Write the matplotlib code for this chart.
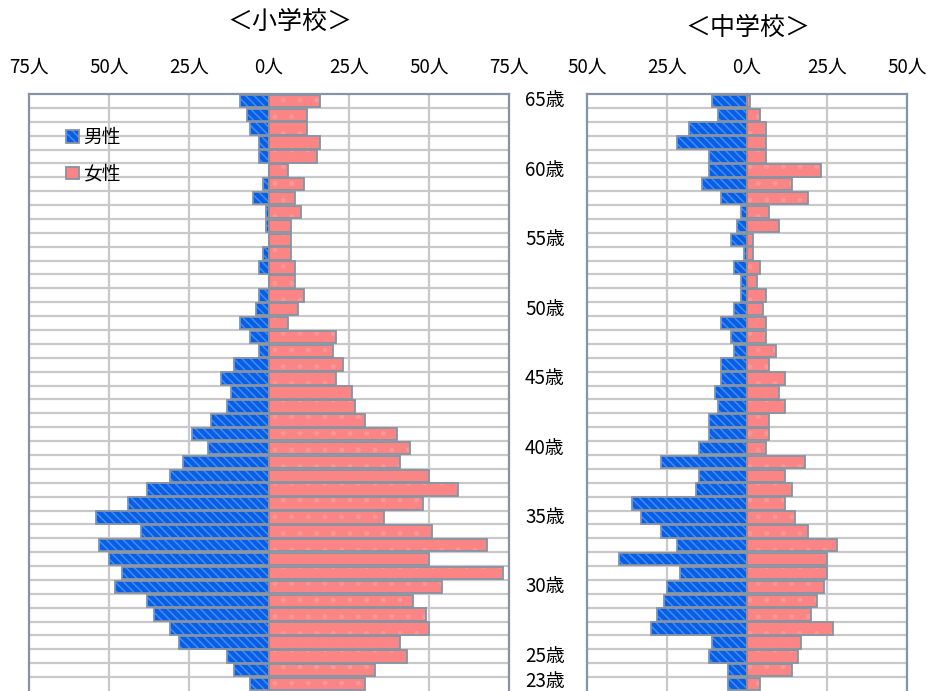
import numpy as np
import matplotlib
matplotlib.use("Agg")
import matplotlib.pyplot as plt
from matplotlib.patches import Patch

plt.rcParams['font.family'] = ['Noto Sans CJK JP', 'DejaVu Sans']
plt.rcParams['hatch.linewidth'] = 1.1

# ======================
# データ（65歳 → 23歳）
# ======================
ages = list(range(65, 22, -1))
age_labels = [65, 60, 55, 50, 45, 40, 35, 30, 25, 23]

# 小学校
elem_male = [9, 7, 6, 3, 3, 0, 2, 5, 1, 1,
             0, 2, 3, 0, 3, 4, 9, 6, 3, 11,
             15, 12, 13, 18, 24, 19, 27, 31, 38, 44,
             54, 40, 53, 50, 46, 48, 38, 36, 31, 28,
             13, 11, 6]
elem_female = [16, 12, 12, 16, 15, 6, 11, 8, 10, 7,
               7, 7, 8, 8, 11, 9, 6, 21, 20, 23,
               21, 26, 27, 30, 40, 44, 41, 50, 59, 48,
               36, 51, 68, 50, 73, 54, 45, 49, 50, 41,
               43, 33, 30]

# 中学校
jhs_male = [11, 9, 18, 22, 12, 12, 14, 8, 2, 3,
            5, 1, 4, 2, 2, 4, 8, 5, 4, 8,
            8, 10, 9, 12, 12, 15, 27, 15, 16, 36,
            33, 27, 22, 40, 21, 25, 26, 28, 30, 11,
            12, 6, 6]
jhs_female = [1, 4, 6, 6, 6, 23, 14, 19, 7, 10,
              2, 2, 4, 3, 6, 5, 6, 6, 9, 7,
              12, 10, 12, 7, 7, 6, 18, 12, 14, 12,
              15, 19, 28, 25, 25, 24, 22, 20, 27, 17,
              16, 14, 4]

elem_ticks = [-75, -50, -25, 0, 25, 50, 75]
jhs_ticks = [-50, -25, 0, 25, 50]

# 色
BLUE = '#0a5ee6'
BLUE_HATCH = '#3f8ef4'
PINK = '#fb8585'
PINK_HATCH = '#fd9797'
EDGE = '#8793a2'
GRID = '#c9c9c9'

fig = plt.figure(figsize=(9.31, 6.91), dpi=100)
ax1 = fig.add_axes([29 / 931, 0, 480 / 931, 597 / 691])
ax2 = fig.add_axes([587 / 931, 0, 320 / 931, 597 / 691])


def draw_pyramid(ax, male, female, ticks):
    y = np.array(ages)
    m = -np.array(male)
    f = np.array(female)
    # 塗り（斜線・ドット）
    ax.barh(y, m, height=0.9, color=BLUE, edgecolor=BLUE_HATCH,
            hatch='\\\\\\\\', linewidth=0, zorder=3)
    ax.barh(y, f, height=0.9, color=PINK, edgecolor=PINK_HATCH,
            hatch='.', linewidth=0, zorder=3)
    # 枠線
    ax.barh(y, m, height=0.9, fill=False, edgecolor=EDGE, linewidth=1.3, zorder=4)
    ax.barh(y, f, height=0.9, fill=False, edgecolor=EDGE, linewidth=1.3, zorder=4)

    ax.set_xlim(ticks[0], ticks[-1])
    ax.set_ylim(ages[-1] - 0.5, ages[0] + 0.5)
    ax.set_xticks(ticks)
    ax.set_xticklabels([f"{abs(t)}人" for t in ticks], fontsize=13.5)
    ax.xaxis.tick_top()
    ax.tick_params(axis='x', length=0, pad=12)
    ax.set_yticks([])
    for t in ticks[1:-1]:
        ax.axvline(t, color=GRID, lw=1.6, zorder=1)
    for a in ages[:-1]:
        ax.axhline(a - 0.5, color=GRID, lw=1.6, zorder=1)
    for s in ax.spines.values():
        s.set_color(EDGE)
        s.set_linewidth(1.6)
    ax.spines['bottom'].set_visible(False)


draw_pyramid(ax1, elem_male, elem_female, elem_ticks)
draw_pyramid(ax2, jhs_male, jhs_female, jhs_ticks)

# 年齢ラベル（一番下だけ少し上げて切れないように）
for a in age_labels:
    ya = a + 0.2 if a == ages[-1] else a
    ax2.text(-62 / 320, ya, f"{a}歳", transform=ax2.get_yaxis_transform(),
             ha='left', va='center', fontsize=13.5)

# タイトル
fig.text(290 / 931, 1 - 22 / 691, "＜小学校＞", ha='center', va='center', fontsize=18)
fig.text(748 / 931, 1 - 28 / 691, "＜中学校＞", ha='center', va='center', fontsize=18)

# 凡例
h_male = (Patch(facecolor=BLUE, edgecolor=BLUE_HATCH, hatch='\\\\\\\\', linewidth=0),
          Patch(fill=False, edgecolor=EDGE, linewidth=1.3))
h_female = (Patch(facecolor=PINK, edgecolor=PINK_HATCH, hatch='.', linewidth=0),
            Patch(fill=False, edgecolor=EDGE, linewidth=1.3))
ax1.legend([h_male, h_female], ["男性", "女性"], loc='upper left',
           bbox_to_anchor=(0.078, 0.945), frameon=False, fontsize=13.5,
           handlelength=0.65, handleheight=0.65, handletextpad=0.25,
           labelspacing=0.85, borderpad=0, borderaxespad=0)

plt.savefig('out.png', dpi=100)
